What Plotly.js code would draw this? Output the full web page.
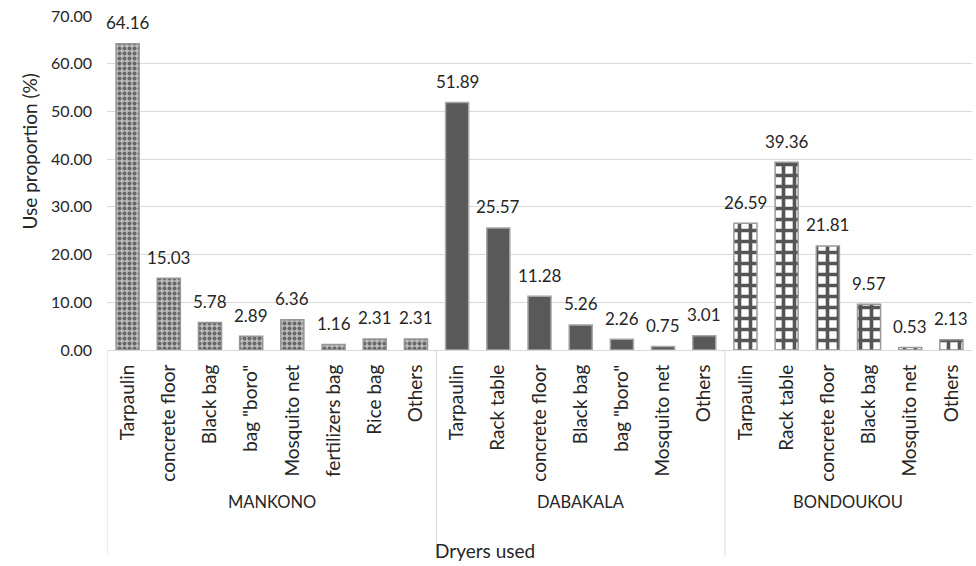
<!DOCTYPE html>
<html>
<head>
<meta charset="utf-8">
<script src="https://cdn.plot.ly/plotly-3.0.1.min.js"></script>
<style>html,body{margin:0;padding:0;background:#fff;}#chart{width:976px;height:566px;}</style>
</head>
<body>
<div id="chart"></div>
<script>
const groups = ["MANKONO", "DABAKALA", "BONDOUKOU"];
const mankonoCats = ["Tarpaulin", "concrete floor", "Black bag", "bag \"boro\"", "Mosquito net", "fertilizers bag", "Rice bag", "Others"];
const mankonoVals = [64.16, 15.03, 5.78, 2.89, 6.36, 1.16, 2.31, 2.31];
const dabakalaCats = ["Tarpaulin", "Rack table", "concrete floor", "Black bag", "bag \"boro\"", "Mosquito net", "Others"];
const dabakalaVals = [51.89, 25.57, 11.28, 5.26, 2.26, 0.75, 3.01];
const bondoukouCats = ["Tarpaulin", "Rack table", "concrete floor", "Black bag", "Mosquito net", "Others"];
const bondoukouVals = [26.59, 39.36, 21.81, 9.57, 0.53, 2.13];
const yTicks = [0, 10, 20, 30, 40, 50, 60, 70];

const catSets = [mankonoCats, dabakalaCats, bondoukouCats];
const valSets = [mankonoVals, dabakalaVals, bondoukouVals];

let offset = 0;
const xs = [];
const allLabels = [];
const groupStart = [];
catSets.forEach((cats) => {
  groupStart.push(offset);
  xs.push(cats.map((c, i) => offset + i));
  cats.forEach(c => allLabels.push(c));
  offset += cats.length;
});
const tickPos = allLabels.map((c, i) => i);

const font = "Lato, 'Open Sans', sans-serif";
const styles = [
  {color: "#b0b0b0", line: {color: "#969696", width: 1.5}, pattern: {shape: ".", fgcolor: "#686868", bgcolor: "#bcbcbc", size: 5, solidity: 0.5}},
  {color: "#595959", line: {color: "#a6a6a6", width: 1.5}},
  {color: "#ffffff", line: {color: "#9a9a9a", width: 1.5}, pattern: {shape: "+", fgcolor: "#555555", bgcolor: "#ffffff", size: 11, solidity: 0.55}}
];

const traces = valSets.map((vals, g) => ({
  type: "bar",
  x: xs[g],
  y: vals,
  name: groups[g],
  marker: styles[g],
  hoverinfo: "x+y"
}));

const shapes = [];
groupStart.forEach(s => {
  shapes.push({type: "line", xref: "x", yref: "paper", x0: s - 0.5, x1: s - 0.5, y0: 0, y1: -0.614, line: {color: "#d9d9d9", width: 1}});
});

const annotations = [];
valSets.forEach((vals, g) => {
  vals.forEach((v, i) => {
    annotations.push({
      x: xs[g][i], y: v, xref: "x", yref: "y", text: v.toFixed(2), showarrow: false,
      xanchor: "center", yanchor: "middle", yshift: 21,
      font: {family: font, size: 17, color: "#262626"}
    });
  });
});
groups.forEach((g, i) => annotations.push({
  x: groupStart[i] + (catSets[i].length - 1) / 2,
  xref: "x", yref: "paper", y: -0.455,
  text: g, showarrow: false, xanchor: "center", yanchor: "middle",
  font: {family: font, size: 16.5, color: "#262626"}
}));
annotations.push({
  x: 0.437, xref: "paper", y: -0.599, yref: "paper", text: "Dryers used", showarrow: false,
  xanchor: "center", yanchor: "middle", font: {family: font, size: 19, color: "#262626"}
});
annotations.push({
  x: -0.09, xref: "paper", y: 0.595, yref: "paper", text: "Use proportion (%)", showarrow: false, textangle: -90,
  xanchor: "center", yanchor: "middle", font: {family: font, size: 19, color: "#262626"}
});

const layout = {
  width: 976, height: 566,
  margin: {l: 107, r: 4, t: 16, b: 216},
  paper_bgcolor: "#ffffff", plot_bgcolor: "#ffffff",
  showlegend: false,
  bargap: 0.44,
  barmode: "group",
  xaxis: {
    range: [-0.5, allLabels.length - 0.5],
    tickmode: "array", tickvals: tickPos, ticktext: allLabels,
    tickangle: -90, ticks: "", showgrid: false, zeroline: false,
    showline: true, linecolor: "#d9d9d9", linewidth: 1,
    tickfont: {family: font, size: 19, color: "#262626"},
    ticklabelstandoff: 6,
    automargin: false
  },
  yaxis: {
    range: [0, 70], tickmode: "array", tickvals: yTicks, ticktext: yTicks.map(v => v.toFixed(2)),
    showgrid: true, gridcolor: "#d9d9d9", gridwidth: 1, zeroline: false, showline: false, ticks: "",
    tickfont: {family: font, size: 16, color: "#262626"},
    ticklabelstandoff: 14,
    automargin: false
  },
  shapes: shapes,
  annotations: annotations
};

Plotly.newPlot("chart", traces, layout, {displayModeBar: false, staticPlot: true});
</script>
</body>
</html>
